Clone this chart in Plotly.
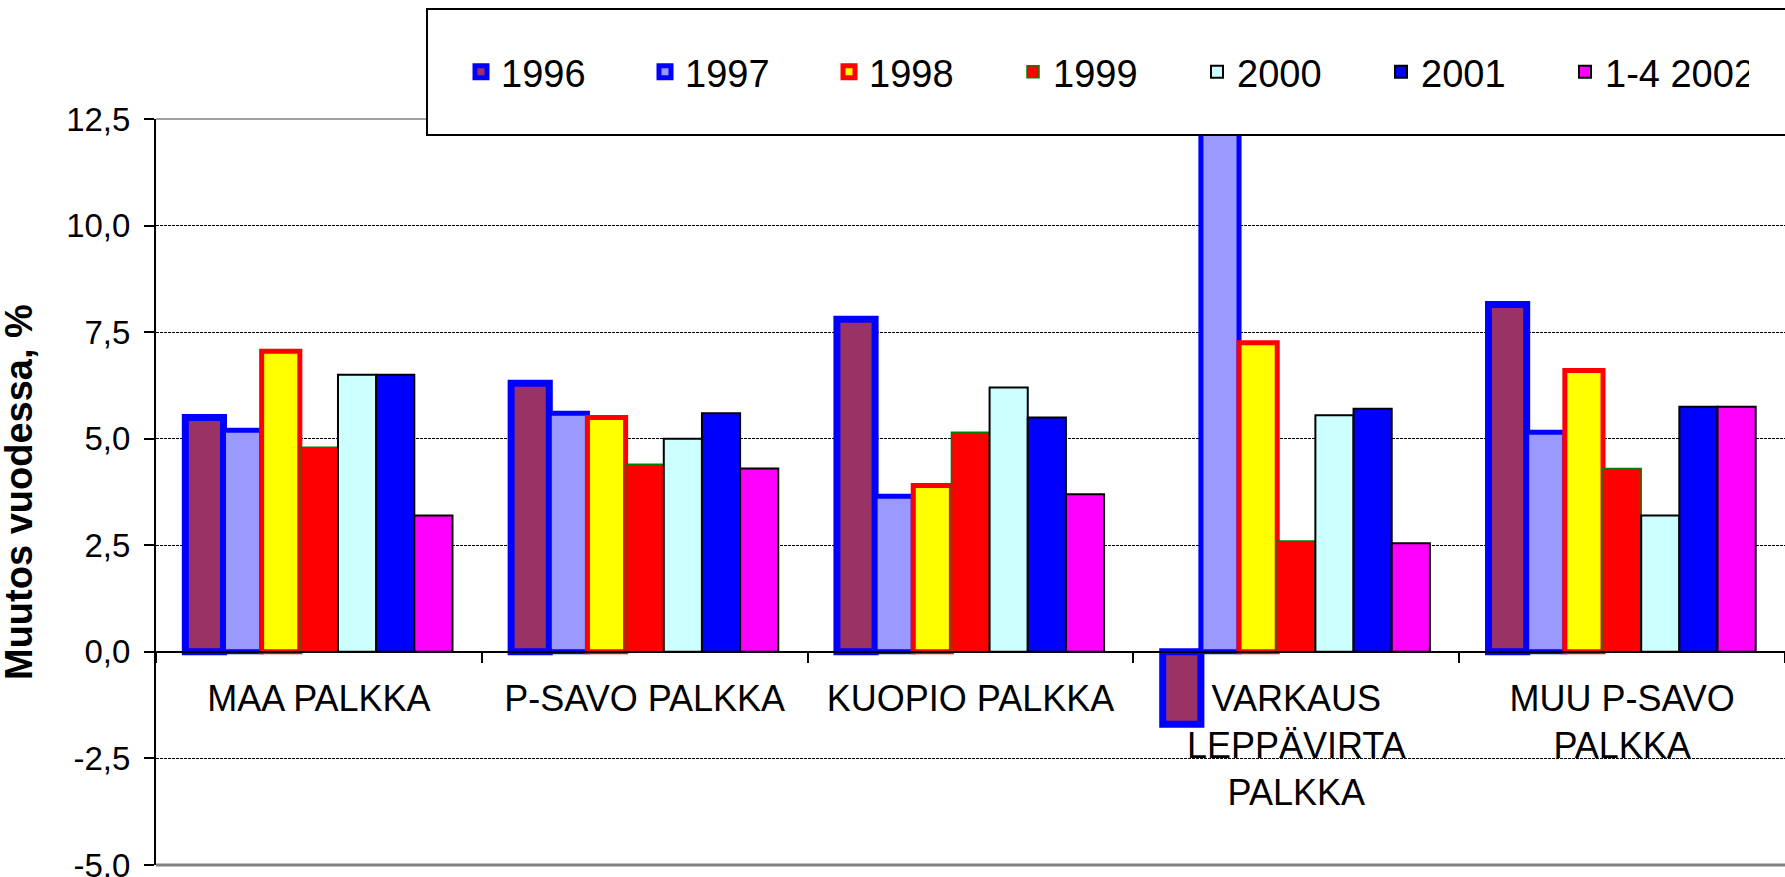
import plotly.graph_objects as go

categories = ["MAA PALKKA", "P-SAVO PALKKA", "KUOPIO PALKKA",
              "VARKAUS<br>LEPPÄVIRTA<br>PALKKA", "MUU P-SAVO<br>PALKKA"]
series_names = ["1996", "1997", "1998", "1999", "2000", "2001", "1-4 2002"]

v1996 = [5.5, 6.3, 7.8, -1.7, 8.15]
v1997 = [5.2, 5.6, 3.65, 13.2, 5.15]
v1998 = [7.05, 5.5, 3.9, 7.25, 6.6]
v1999 = [4.8, 4.4, 5.15, 2.6, 4.3]
v2000 = [6.5, 5.0, 6.2, 5.55, 3.2]
v2001 = [6.5, 5.6, 5.5, 5.7, 5.75]
v2002 = [3.2, 4.3, 3.7, 2.55, 5.75]

fill_colors = ["#993366", "#9999FF", "#FFFF00", "#FF0000", "#CCFFFF", "#0000FF", "#FF00FF"]
line_colors = ["#0000FF", "#0000FF", "#FF0000", "#008000", "#000000", "#000000", "#000000"]
line_widths = [7, 5, 5, 1.5, 2, 2, 2]

y_tickvals = [-5, -2.5, 0, 2.5, 5, 7.5, 10, 12.5]
y_ticktext = ["-5,0", "-2,5", "0,0", "2,5", "5,0", "7,5", "10,0", "12,5"]

all_values = [v1996, v1997, v1998, v1999, v2000, v2001, v2002]

FONT = "Liberation Sans, Arial, sans-serif"

fig = go.Figure()
for name, vals, fc, lc, lw in zip(series_names, all_values, fill_colors, line_colors, line_widths):
    fig.add_trace(go.Bar(
        x=categories, y=vals, name=name,
        marker=dict(color=fc, line=dict(color=lc, width=lw)),
    ))

W, H = 1785, 877
ML, MR, MT, MB = 156, 0, 119, 12
plot_w = W - ML - MR
plot_h = H - MT - MB

ymin, ymax = -5, 12.5

fig.update_layout(
    width=W, height=H,
    margin=dict(l=ML, r=MR, t=MT, b=MB, pad=0, autoexpand=False),
    paper_bgcolor="white", plot_bgcolor="white",
    barmode="group", bargap=0.18, bargroupgap=0,
    font=dict(family=FONT, color="black"),
    showlegend=True,
    legend=dict(
        orientation="h",
        x=(461 - ML) / plot_w, xanchor="left",
        y=1 + (MT - 72) / plot_h, yanchor="middle",
        bgcolor="rgba(0,0,0,0)", borderwidth=0,
        font=dict(family=FONT, size=38, color="black"),
        entrywidth=139, entrywidthmode="pixels",
        traceorder="normal",
    ),
    xaxis=dict(
        anchor="free", position=(0 - ymin) / (ymax - ymin),
        automargin=False,
        showline=True, linecolor="black", linewidth=2,
        ticks="outside", tickson="boundaries", ticklen=10, tickwidth=2, tickcolor="black",
        tickfont=dict(family=FONT, size=36, color="black"),
        ticklabelstandoff=15,
        showgrid=False, zeroline=False,
        layer="above traces",
    ),
    yaxis=dict(
        range=[ymin, ymax],
        automargin=False,
        tickvals=y_tickvals, ticktext=y_ticktext,
        ticks="outside", ticklen=10, tickwidth=1.5, tickcolor="black",
        tickfont=dict(family=FONT, size=33, color="black"),
        ticklabelstandoff=7, ticklabeloverflow="allow",
        showline=True, linecolor="black", linewidth=2,
        showgrid=True, gridcolor="black", gridwidth=1, griddash="3px,1px",
        zeroline=False,
    ),
    shapes=[
        dict(type="line", xref="paper", yref="paper", x0=0, x1=1, y0=1, y1=1,
             line=dict(color="#808080", width=1.5), layer="below"),
        dict(type="line", xref="paper", yref="paper", x0=0, x1=1, y0=0, y1=0,
             line=dict(color="#808080", width=3), layer="below"),
        dict(type="rect", xref="paper", yref="paper",
             x0=(427 - ML) / plot_w, x1=1.02,
             y0=1 + (MT - 135) / plot_h, y1=1 + (MT - 9) / plot_h,
             fillcolor="white", line=dict(color="black", width=2), layer="above"),
    ],
    annotations=[
        dict(text="<b>Muutos vuodessa, %</b>", textangle=-90,
             xref="paper", yref="paper", x=(19 - ML) / plot_w, y=0.5,
             xanchor="center", yanchor="middle", showarrow=False,
             font=dict(family=FONT, size=38, color="black")),
    ],
)

fig.write_html(
    "out.html",
    config={"displayModeBar": False},
    post_script="document.body.style.margin='0';document.body.style.overflow='hidden';",
)
